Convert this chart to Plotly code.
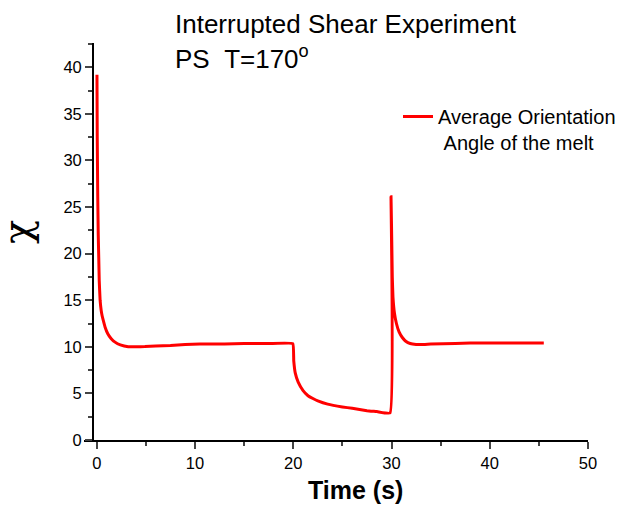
import plotly.graph_objects as go

# ---- data ----
time_s = [0.02, 0.05, 0.10, 0.15, 0.20, 0.25, 0.34, 0.45, 0.55, 0.67, 0.85, 1.12, 1.45, 1.86, 2.4, 3.2,
          4.0, 4.9, 6.0, 7.5, 9.0, 10.5, 13.0, 15.0, 17.5, 19.95,
          20.05, 20.2, 20.5, 21.0, 21.5, 22.0, 22.5, 23.5, 25.0, 26.0, 27.5, 28.5, 29.85,
          29.95, 30.03, 30.08, 30.15, 30.3, 30.5, 30.77, 31.1, 31.45, 31.9, 32.5, 33.3,
          34.0, 36.5, 38.0, 42.0, 45.5]
chi = [39.2, 32.3, 26.1, 22.0, 19.6, 17.1, 15.0, 13.9, 13.3, 12.8, 12.1, 11.4, 10.9, 10.5, 10.2, 10.0,
       10.0, 10.02, 10.1, 10.15, 10.25, 10.3, 10.3, 10.35, 10.35, 10.35,
       8.5, 7.2, 6.2, 5.3, 4.75, 4.45, 4.2, 3.85, 3.55, 3.4, 3.15, 3.05, 2.9,
       26.1, 21.0, 17.5, 15.3, 13.6, 12.5, 11.6, 11.0, 10.6, 10.35, 10.25, 10.25,
       10.3, 10.35, 10.4, 10.4, 10.4]

title_line1 = "Interrupted Shear Experiment"
title_line2 = "PS\u00a0\u00a0T=170<sup>o</sup>"
legend_name = "Average Orientation<br>\u00a0Angle of the melt"
x_title = "<b>Time (s)</b>"
y_title = "\u03c7"
x_ticks = [0, 10, 20, 30, 40, 50]
y_ticks = [0, 5, 10, 15, 20, 25, 30, 35, 40]

FONT = "Liberation Sans, Arial, sans-serif"

fig = go.Figure()
fig.add_trace(go.Scatter(x=time_s, y=chi, mode="lines", name=legend_name,
                         line=dict(color="#ff0000", width=3, shape="spline", smoothing=0.3)))

W, H = 623, 508
L, R, T, B = 84, 35, 43, 68
plot_w = W - L - R
plot_h = H - T - B

def px(x):
    return (x - L) / plot_w

def py(y):
    return (H - B - y) / plot_h

fig.update_layout(
    width=W, height=H,
    margin=dict(l=L, r=R, t=T, b=B, autoexpand=False),
    paper_bgcolor="white", plot_bgcolor="white",
    font=dict(family=FONT, color="black"),
    showlegend=True,
    legend=dict(x=px(398), y=py(97), xanchor="left", yanchor="top",
                font=dict(size=20, family=FONT, color="black"),
                bgcolor="rgba(0,0,0,0)", borderwidth=0, valign="top"),
    xaxis=dict(range=[-1.3, 50], tickvals=x_ticks, ticks="outside", ticklen=7, tickwidth=1.5,
               showline=True, linecolor="black", linewidth=1.5, showgrid=False, zeroline=False,
               tickfont=dict(size=16.5, family=FONT, color="black"),
               minor=dict(dtick=5, tick0=0, ticks="outside", ticklen=4, tickwidth=1.5, showgrid=False),
               anchor="y"),
    yaxis=dict(range=[0, 42.6], tickvals=y_ticks, ticks="outside", ticklen=7, tickwidth=1.5,
               showline=True, linecolor="black", linewidth=1.5, showgrid=False, zeroline=False,
               tickfont=dict(size=16.5, family=FONT, color="black"),
               minor=dict(dtick=2.5, tick0=0, ticks="outside", ticklen=4, tickwidth=1.5, showgrid=False),
               anchor="free", position=px(92.8)),
    annotations=[
        dict(text=title_line1, x=px(173), y=py(24), xref="paper", yref="paper",
             xanchor="left", yanchor="middle", showarrow=False,
             font=dict(size=26, family=FONT, color="black")),
        dict(text=title_line2, x=px(173), y=py(58), xref="paper", yref="paper",
             xanchor="left", yanchor="middle", showarrow=False,
             font=dict(size=26, family=FONT, color="black")),
        dict(text=x_title, x=px(355), y=py(490), xref="paper", yref="paper",
             xanchor="center", yanchor="middle", showarrow=False,
             font=dict(size=25, family=FONT, color="black")),
        dict(text=y_title, x=px(17), y=py(232), xref="paper", yref="paper",
             xanchor="center", yanchor="middle", showarrow=False, textangle=-90,
             font=dict(size=40, family="DejaVu Serif, serif", color="black")),
    ],
)

fig.write_html("out.html")
